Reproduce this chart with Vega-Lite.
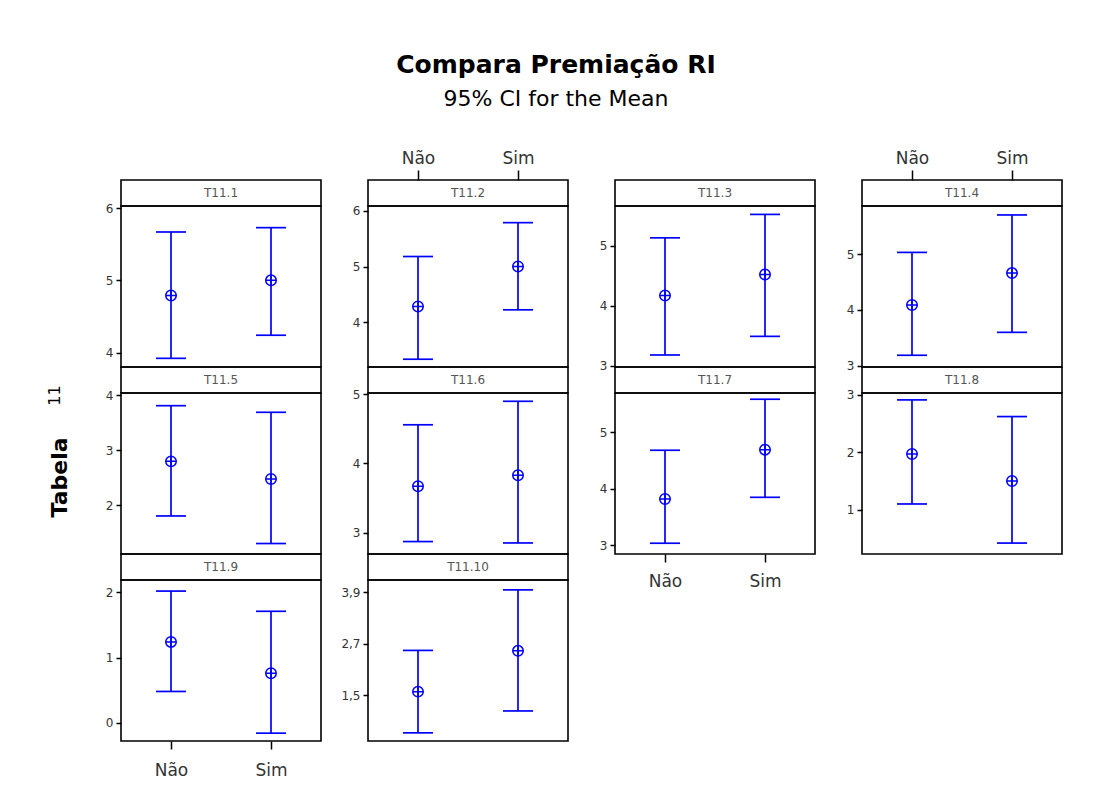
{
  "$schema": "https://vega.github.io/schema/vega-lite/v6.json",
  "background": "white",
  "padding": {"left": 45, "top": 53, "right": 5, "bottom": 5},
  "title": {
    "text": "Compara Premiação RI",
    "subtitle": "95% CI for the Mean",
    "anchor": "middle",
    "dx": 2,
    "font": "DejaVu Sans",
    "fontSize": 25,
    "fontWeight": "bold",
    "color": "#000",
    "subtitleFont": "DejaVu Sans",
    "subtitleFontSize": 22,
    "subtitleColor": "#000",
    "subtitlePadding": 11,
    "offset": 38
  },
  "datasets": {
    "ci": [
      {"panel": "T11.1", "group": "Não", "lower": 3.92, "mean": 4.79, "upper": 5.67},
      {"panel": "T11.1", "group": "Sim", "lower": 4.24, "mean": 5.0, "upper": 5.73},
      {"panel": "T11.2", "group": "Não", "lower": 3.33, "mean": 4.28, "upper": 5.18},
      {"panel": "T11.2", "group": "Sim", "lower": 4.22, "mean": 5.0, "upper": 5.79},
      {"panel": "T11.3", "group": "Não", "lower": 3.18, "mean": 4.17, "upper": 5.13},
      {"panel": "T11.3", "group": "Sim", "lower": 3.49, "mean": 4.52, "upper": 5.52},
      {"panel": "T11.4", "group": "Não", "lower": 3.19, "mean": 4.09, "upper": 5.03},
      {"panel": "T11.4", "group": "Sim", "lower": 3.6, "mean": 4.66, "upper": 5.7},
      {"panel": "T11.5", "group": "Não", "lower": 1.81, "mean": 2.8, "upper": 3.81},
      {"panel": "T11.5", "group": "Sim", "lower": 1.31, "mean": 2.48, "upper": 3.69},
      {"panel": "T11.6", "group": "Não", "lower": 2.87, "mean": 3.67, "upper": 4.56},
      {"panel": "T11.6", "group": "Sim", "lower": 2.85, "mean": 3.83, "upper": 4.9},
      {"panel": "T11.7", "group": "Não", "lower": 3.04, "mean": 3.82, "upper": 4.68},
      {"panel": "T11.7", "group": "Sim", "lower": 3.85, "mean": 4.69, "upper": 5.58},
      {"panel": "T11.8", "group": "Não", "lower": 1.1, "mean": 1.97, "upper": 2.91},
      {"panel": "T11.8", "group": "Sim", "lower": 0.42, "mean": 1.5, "upper": 2.62},
      {"panel": "T11.9", "group": "Não", "lower": 0.48, "mean": 1.24, "upper": 2.02},
      {"panel": "T11.9", "group": "Sim", "lower": -0.16, "mean": 0.76, "upper": 1.71},
      {"panel": "T11.10", "group": "Não", "lower": 0.62, "mean": 1.58, "upper": 2.54},
      {"panel": "T11.10", "group": "Sim", "lower": 1.13, "mean": 2.53, "upper": 3.95}
    ]
  },
  "spacing": 15,
  "hconcat": [
    {
      "spacing": 0,
      "bounds": "flush",
      "vconcat": [
        {"width": 200, "height": 26, "data": {"values": [{"label": "T11.1"}]}, "mark": {"type": "text", "fontSize": 12, "color": "#555"}, "encoding": {"text": {"field": "label"}, "x": {"field": "label", "type": "nominal", "axis": null}}},
        {
          "width": 200, "height": 161,
          "data": {"name": "ci"},
          "transform": [{"filter": "datum.panel === 'T11.1'"}],
          "encoding": {"x": {"field": "group", "type": "nominal", "title": null, "scale": {"type": "point", "domain": ["Não", "Sim"], "padding": 0.5}, "axis": null}},
          "layer": [
            {"mark": {"type": "rule", "color": "#0000ff", "strokeWidth": 1.7}, "encoding": {"y": {"field": "lower", "type": "quantitative", "title": null, "scale": {"domain": [3.8, 6.03], "nice": false, "zero": false}, "axis": {"values": [4, 5, 6]}}, "y2": {"field": "upper"}}},
            {"mark": {"type": "tick", "color": "#0000ff", "size": 30, "thickness": 1.7, "opacity": 1}, "encoding": {"y": {"field": "upper", "type": "quantitative", "title": null}}},
            {"mark": {"type": "tick", "color": "#0000ff", "size": 30, "thickness": 1.7, "opacity": 1}, "encoding": {"y": {"field": "lower", "type": "quantitative", "title": null}}},
            {"mark": {"type": "point", "shape": "M-1,0A1,1,0,1,1,1,0A1,1,0,1,1,-1,0ZM-1,0L1,0M0,-1L0,1", "size": 110, "filled": false, "color": "#0000ff", "strokeWidth": 1.5, "opacity": 1}, "encoding": {"y": {"field": "mean", "type": "quantitative", "title": null}}}
          ]
        },
        {"width": 200, "height": 26, "data": {"values": [{"label": "T11.5"}]}, "mark": {"type": "text", "fontSize": 12, "color": "#555"}, "encoding": {"text": {"field": "label"}, "x": {"field": "label", "type": "nominal", "axis": null}, "y": {"field": "label", "type": "nominal", "scale": {"type": "point"}, "axis": {"title": "11", "labels": false, "ticks": false, "titleFontSize": 16, "titleFontWeight": "normal", "titlePadding": 29, "titleY": 28}}}},
        {
          "width": 200, "height": 161,
          "data": {"name": "ci"},
          "transform": [{"filter": "datum.panel === 'T11.5'"}],
          "encoding": {"x": {"field": "group", "type": "nominal", "title": null, "scale": {"type": "point", "domain": ["Não", "Sim"], "padding": 0.5}, "axis": null}},
          "layer": [
            {"mark": {"type": "rule", "color": "#0000ff", "strokeWidth": 1.7}, "encoding": {"y": {"field": "lower", "type": "quantitative", "scale": {"domain": [1.12, 4.04], "nice": false, "zero": false}, "axis": {"values": [2, 3, 4], "title": "Tabela", "titleFontSize": 22, "titleFontWeight": "bold", "titlePadding": 20, "titleY": 84}}, "y2": {"field": "upper"}}},
            {"mark": {"type": "tick", "color": "#0000ff", "size": 30, "thickness": 1.7, "opacity": 1}, "encoding": {"y": {"field": "upper", "type": "quantitative"}}},
            {"mark": {"type": "tick", "color": "#0000ff", "size": 30, "thickness": 1.7, "opacity": 1}, "encoding": {"y": {"field": "lower", "type": "quantitative"}}},
            {"mark": {"type": "point", "shape": "M-1,0A1,1,0,1,1,1,0A1,1,0,1,1,-1,0ZM-1,0L1,0M0,-1L0,1", "size": 110, "filled": false, "color": "#0000ff", "strokeWidth": 1.5, "opacity": 1}, "encoding": {"y": {"field": "mean", "type": "quantitative"}}}
          ]
        },
        {"width": 200, "height": 26, "data": {"values": [{"label": "T11.9"}]}, "mark": {"type": "text", "fontSize": 12, "color": "#555"}, "encoding": {"text": {"field": "label"}, "x": {"field": "label", "type": "nominal", "axis": null}}},
        {
          "width": 200, "height": 161,
          "data": {"name": "ci"},
          "transform": [{"filter": "datum.panel === 'T11.9'"}],
          "encoding": {"x": {"field": "group", "type": "nominal", "title": null, "scale": {"type": "point", "domain": ["Não", "Sim"], "padding": 0.5}, "axis": {"orient": "bottom", "labelPadding": 13}}},
          "layer": [
            {"mark": {"type": "rule", "color": "#0000ff", "strokeWidth": 1.7}, "encoding": {"y": {"field": "lower", "type": "quantitative", "title": null, "scale": {"domain": [-0.28, 2.19], "nice": false, "zero": false}, "axis": {"values": [0, 1, 2]}}, "y2": {"field": "upper"}}},
            {"mark": {"type": "tick", "color": "#0000ff", "size": 30, "thickness": 1.7, "opacity": 1}, "encoding": {"y": {"field": "upper", "type": "quantitative", "title": null}}},
            {"mark": {"type": "tick", "color": "#0000ff", "size": 30, "thickness": 1.7, "opacity": 1}, "encoding": {"y": {"field": "lower", "type": "quantitative", "title": null}}},
            {"mark": {"type": "point", "shape": "M-1,0A1,1,0,1,1,1,0A1,1,0,1,1,-1,0ZM-1,0L1,0M0,-1L0,1", "size": 110, "filled": false, "color": "#0000ff", "strokeWidth": 1.5, "opacity": 1}, "encoding": {"y": {"field": "mean", "type": "quantitative", "title": null}}}
          ]
        }
      ]
    },
    {
      "spacing": 0,
      "bounds": "flush",
      "vconcat": [
        {
          "width": 200, "height": 26,
          "layer": [
            {"data": {"values": [{"label": "T11.2"}]}, "mark": {"type": "text", "fontSize": 12, "color": "#555"}, "encoding": {"text": {"field": "label"}}},
            {"data": {"name": "ci"}, "transform": [{"filter": "datum.panel === 'T11.2'"}], "mark": {"type": "point", "opacity": 0}, "encoding": {"x": {"field": "group", "type": "nominal", "title": null, "scale": {"type": "point", "domain": ["Não", "Sim"], "padding": 0.5}, "axis": {"orient": "top", "tickSize": 10}}}}
          ]
        },
        {
          "width": 200, "height": 161,
          "data": {"name": "ci"},
          "transform": [{"filter": "datum.panel === 'T11.2'"}],
          "encoding": {"x": {"field": "group", "type": "nominal", "title": null, "scale": {"type": "point", "domain": ["Não", "Sim"], "padding": 0.5}, "axis": null}},
          "layer": [
            {"mark": {"type": "rule", "color": "#0000ff", "strokeWidth": 1.7}, "encoding": {"y": {"field": "lower", "type": "quantitative", "title": null, "scale": {"domain": [3.19, 6.09], "nice": false, "zero": false}, "axis": {"values": [4, 5, 6]}}, "y2": {"field": "upper"}}},
            {"mark": {"type": "tick", "color": "#0000ff", "size": 30, "thickness": 1.7, "opacity": 1}, "encoding": {"y": {"field": "upper", "type": "quantitative", "title": null}}},
            {"mark": {"type": "tick", "color": "#0000ff", "size": 30, "thickness": 1.7, "opacity": 1}, "encoding": {"y": {"field": "lower", "type": "quantitative", "title": null}}},
            {"mark": {"type": "point", "shape": "M-1,0A1,1,0,1,1,1,0A1,1,0,1,1,-1,0ZM-1,0L1,0M0,-1L0,1", "size": 110, "filled": false, "color": "#0000ff", "strokeWidth": 1.5, "opacity": 1}, "encoding": {"y": {"field": "mean", "type": "quantitative", "title": null}}}
          ]
        },
        {"width": 200, "height": 26, "data": {"values": [{"label": "T11.6"}]}, "mark": {"type": "text", "fontSize": 12, "color": "#555"}, "encoding": {"text": {"field": "label"}, "x": {"field": "label", "type": "nominal", "axis": null}}},
        {
          "width": 200, "height": 161,
          "data": {"name": "ci"},
          "transform": [{"filter": "datum.panel === 'T11.6'"}],
          "encoding": {"x": {"field": "group", "type": "nominal", "title": null, "scale": {"type": "point", "domain": ["Não", "Sim"], "padding": 0.5}, "axis": null}},
          "layer": [
            {"mark": {"type": "rule", "color": "#0000ff", "strokeWidth": 1.7}, "encoding": {"y": {"field": "lower", "type": "quantitative", "title": null, "scale": {"domain": [2.69, 5.02], "nice": false, "zero": false}, "axis": {"values": [3, 4, 5]}}, "y2": {"field": "upper"}}},
            {"mark": {"type": "tick", "color": "#0000ff", "size": 30, "thickness": 1.7, "opacity": 1}, "encoding": {"y": {"field": "upper", "type": "quantitative", "title": null}}},
            {"mark": {"type": "tick", "color": "#0000ff", "size": 30, "thickness": 1.7, "opacity": 1}, "encoding": {"y": {"field": "lower", "type": "quantitative", "title": null}}},
            {"mark": {"type": "point", "shape": "M-1,0A1,1,0,1,1,1,0A1,1,0,1,1,-1,0ZM-1,0L1,0M0,-1L0,1", "size": 110, "filled": false, "color": "#0000ff", "strokeWidth": 1.5, "opacity": 1}, "encoding": {"y": {"field": "mean", "type": "quantitative", "title": null}}}
          ]
        },
        {"width": 200, "height": 26, "data": {"values": [{"label": "T11.10"}]}, "mark": {"type": "text", "fontSize": 12, "color": "#555"}, "encoding": {"text": {"field": "label"}, "x": {"field": "label", "type": "nominal", "axis": null}}},
        {
          "width": 200, "height": 161,
          "data": {"name": "ci"},
          "transform": [{"filter": "datum.panel === 'T11.10'"}],
          "encoding": {"x": {"field": "group", "type": "nominal", "title": null, "scale": {"type": "point", "domain": ["Não", "Sim"], "padding": 0.5}, "axis": null}},
          "layer": [
            {"mark": {"type": "rule", "color": "#0000ff", "strokeWidth": 1.7}, "encoding": {"y": {"field": "lower", "type": "quantitative", "title": null, "scale": {"domain": [0.43, 4.18], "nice": false, "zero": false}, "axis": {"values": [1.5, 2.7, 3.9], "format": ".1f", "labelExpr": "replace(datum.label, '.', ',')"}}, "y2": {"field": "upper"}}},
            {"mark": {"type": "tick", "color": "#0000ff", "size": 30, "thickness": 1.7, "opacity": 1}, "encoding": {"y": {"field": "upper", "type": "quantitative", "title": null}}},
            {"mark": {"type": "tick", "color": "#0000ff", "size": 30, "thickness": 1.7, "opacity": 1}, "encoding": {"y": {"field": "lower", "type": "quantitative", "title": null}}},
            {"mark": {"type": "point", "shape": "M-1,0A1,1,0,1,1,1,0A1,1,0,1,1,-1,0ZM-1,0L1,0M0,-1L0,1", "size": 110, "filled": false, "color": "#0000ff", "strokeWidth": 1.5, "opacity": 1}, "encoding": {"y": {"field": "mean", "type": "quantitative", "title": null}}}
          ]
        }
      ]
    },
    {
      "spacing": 0,
      "bounds": "flush",
      "vconcat": [
        {"width": 200, "height": 26, "data": {"values": [{"label": "T11.3"}]}, "mark": {"type": "text", "fontSize": 12, "color": "#555"}, "encoding": {"text": {"field": "label"}, "x": {"field": "label", "type": "nominal", "axis": null}}},
        {
          "width": 200, "height": 161,
          "data": {"name": "ci"},
          "transform": [{"filter": "datum.panel === 'T11.3'"}],
          "encoding": {"x": {"field": "group", "type": "nominal", "title": null, "scale": {"type": "point", "domain": ["Não", "Sim"], "padding": 0.5}, "axis": null}},
          "layer": [
            {"mark": {"type": "rule", "color": "#0000ff", "strokeWidth": 1.7}, "encoding": {"y": {"field": "lower", "type": "quantitative", "title": null, "scale": {"domain": [2.98, 5.66], "nice": false, "zero": false}, "axis": {"values": [3, 4, 5]}}, "y2": {"field": "upper"}}},
            {"mark": {"type": "tick", "color": "#0000ff", "size": 30, "thickness": 1.7, "opacity": 1}, "encoding": {"y": {"field": "upper", "type": "quantitative", "title": null}}},
            {"mark": {"type": "tick", "color": "#0000ff", "size": 30, "thickness": 1.7, "opacity": 1}, "encoding": {"y": {"field": "lower", "type": "quantitative", "title": null}}},
            {"mark": {"type": "point", "shape": "M-1,0A1,1,0,1,1,1,0A1,1,0,1,1,-1,0ZM-1,0L1,0M0,-1L0,1", "size": 110, "filled": false, "color": "#0000ff", "strokeWidth": 1.5, "opacity": 1}, "encoding": {"y": {"field": "mean", "type": "quantitative", "title": null}}}
          ]
        },
        {"width": 200, "height": 26, "data": {"values": [{"label": "T11.7"}]}, "mark": {"type": "text", "fontSize": 12, "color": "#555"}, "encoding": {"text": {"field": "label"}, "x": {"field": "label", "type": "nominal", "axis": null}}},
        {
          "width": 200, "height": 161,
          "data": {"name": "ci"},
          "transform": [{"filter": "datum.panel === 'T11.7'"}],
          "encoding": {"x": {"field": "group", "type": "nominal", "title": null, "scale": {"type": "point", "domain": ["Não", "Sim"], "padding": 0.5}, "axis": {"orient": "bottom", "labelPadding": 11}}},
          "layer": [
            {"mark": {"type": "rule", "color": "#0000ff", "strokeWidth": 1.7}, "encoding": {"y": {"field": "lower", "type": "quantitative", "title": null, "scale": {"domain": [2.85, 5.69], "nice": false, "zero": false}, "axis": {"values": [3, 4, 5]}}, "y2": {"field": "upper"}}},
            {"mark": {"type": "tick", "color": "#0000ff", "size": 30, "thickness": 1.7, "opacity": 1}, "encoding": {"y": {"field": "upper", "type": "quantitative", "title": null}}},
            {"mark": {"type": "tick", "color": "#0000ff", "size": 30, "thickness": 1.7, "opacity": 1}, "encoding": {"y": {"field": "lower", "type": "quantitative", "title": null}}},
            {"mark": {"type": "point", "shape": "M-1,0A1,1,0,1,1,1,0A1,1,0,1,1,-1,0ZM-1,0L1,0M0,-1L0,1", "size": 110, "filled": false, "color": "#0000ff", "strokeWidth": 1.5, "opacity": 1}, "encoding": {"y": {"field": "mean", "type": "quantitative", "title": null}}}
          ]
        }
      ]
    },
    {
      "spacing": 0,
      "bounds": "flush",
      "vconcat": [
        {
          "width": 200, "height": 26,
          "layer": [
            {"data": {"values": [{"label": "T11.4"}]}, "mark": {"type": "text", "fontSize": 12, "color": "#555"}, "encoding": {"text": {"field": "label"}}},
            {"data": {"name": "ci"}, "transform": [{"filter": "datum.panel === 'T11.4'"}], "mark": {"type": "point", "opacity": 0}, "encoding": {"x": {"field": "group", "type": "nominal", "title": null, "scale": {"type": "point", "domain": ["Não", "Sim"], "padding": 0.5}, "axis": {"orient": "top", "tickSize": 10}}}}
          ]
        },
        {
          "width": 200, "height": 161,
          "data": {"name": "ci"},
          "transform": [{"filter": "datum.panel === 'T11.4'"}],
          "encoding": {"x": {"field": "group", "type": "nominal", "title": null, "scale": {"type": "point", "domain": ["Não", "Sim"], "padding": 0.5}, "axis": null}},
          "layer": [
            {"mark": {"type": "rule", "color": "#0000ff", "strokeWidth": 1.7}, "encoding": {"y": {"field": "lower", "type": "quantitative", "title": null, "scale": {"domain": [2.98, 5.86], "nice": false, "zero": false}, "axis": {"values": [3, 4, 5]}}, "y2": {"field": "upper"}}},
            {"mark": {"type": "tick", "color": "#0000ff", "size": 30, "thickness": 1.7, "opacity": 1}, "encoding": {"y": {"field": "upper", "type": "quantitative", "title": null}}},
            {"mark": {"type": "tick", "color": "#0000ff", "size": 30, "thickness": 1.7, "opacity": 1}, "encoding": {"y": {"field": "lower", "type": "quantitative", "title": null}}},
            {"mark": {"type": "point", "shape": "M-1,0A1,1,0,1,1,1,0A1,1,0,1,1,-1,0ZM-1,0L1,0M0,-1L0,1", "size": 110, "filled": false, "color": "#0000ff", "strokeWidth": 1.5, "opacity": 1}, "encoding": {"y": {"field": "mean", "type": "quantitative", "title": null}}}
          ]
        },
        {"width": 200, "height": 26, "data": {"values": [{"label": "T11.8"}]}, "mark": {"type": "text", "fontSize": 12, "color": "#555"}, "encoding": {"text": {"field": "label"}, "x": {"field": "label", "type": "nominal", "axis": null}}},
        {
          "width": 200, "height": 161,
          "data": {"name": "ci"},
          "transform": [{"filter": "datum.panel === 'T11.8'"}],
          "encoding": {"x": {"field": "group", "type": "nominal", "title": null, "scale": {"type": "point", "domain": ["Não", "Sim"], "padding": 0.5}, "axis": null}},
          "layer": [
            {"mark": {"type": "rule", "color": "#0000ff", "strokeWidth": 1.7}, "encoding": {"y": {"field": "lower", "type": "quantitative", "title": null, "scale": {"domain": [0.23, 3.03], "nice": false, "zero": false}, "axis": {"values": [1, 2, 3]}}, "y2": {"field": "upper"}}},
            {"mark": {"type": "tick", "color": "#0000ff", "size": 30, "thickness": 1.7, "opacity": 1}, "encoding": {"y": {"field": "upper", "type": "quantitative", "title": null}}},
            {"mark": {"type": "tick", "color": "#0000ff", "size": 30, "thickness": 1.7, "opacity": 1}, "encoding": {"y": {"field": "lower", "type": "quantitative", "title": null}}},
            {"mark": {"type": "point", "shape": "M-1,0A1,1,0,1,1,1,0A1,1,0,1,1,-1,0ZM-1,0L1,0M0,-1L0,1", "size": 110, "filled": false, "color": "#0000ff", "strokeWidth": 1.5, "opacity": 1}, "encoding": {"y": {"field": "mean", "type": "quantitative", "title": null}}}
          ]
        }
      ]
    }
  ],
  "config": {
    "font": "DejaVu Sans",
    "view": {"stroke": "#000", "strokeWidth": 1.6},
    "text": {"font": "DejaVu Sans"},
    "axis": {"grid": false, "domain": false, "labelFont": "DejaVu Sans", "labelColor": "#333", "tickColor": "#000", "tickWidth": 1.5, "titleFont": "DejaVu Sans", "titleColor": "#000"},
    "axisY": {"labelFontSize": 12, "tickSize": 5, "labelPadding": 3, "minExtent": 30, "maxExtent": 30, "format": "~g"},
    "axisX": {"labelFontSize": 17, "tickSize": 8, "labelPadding": 3, "labelAngle": 0}
  }
}
